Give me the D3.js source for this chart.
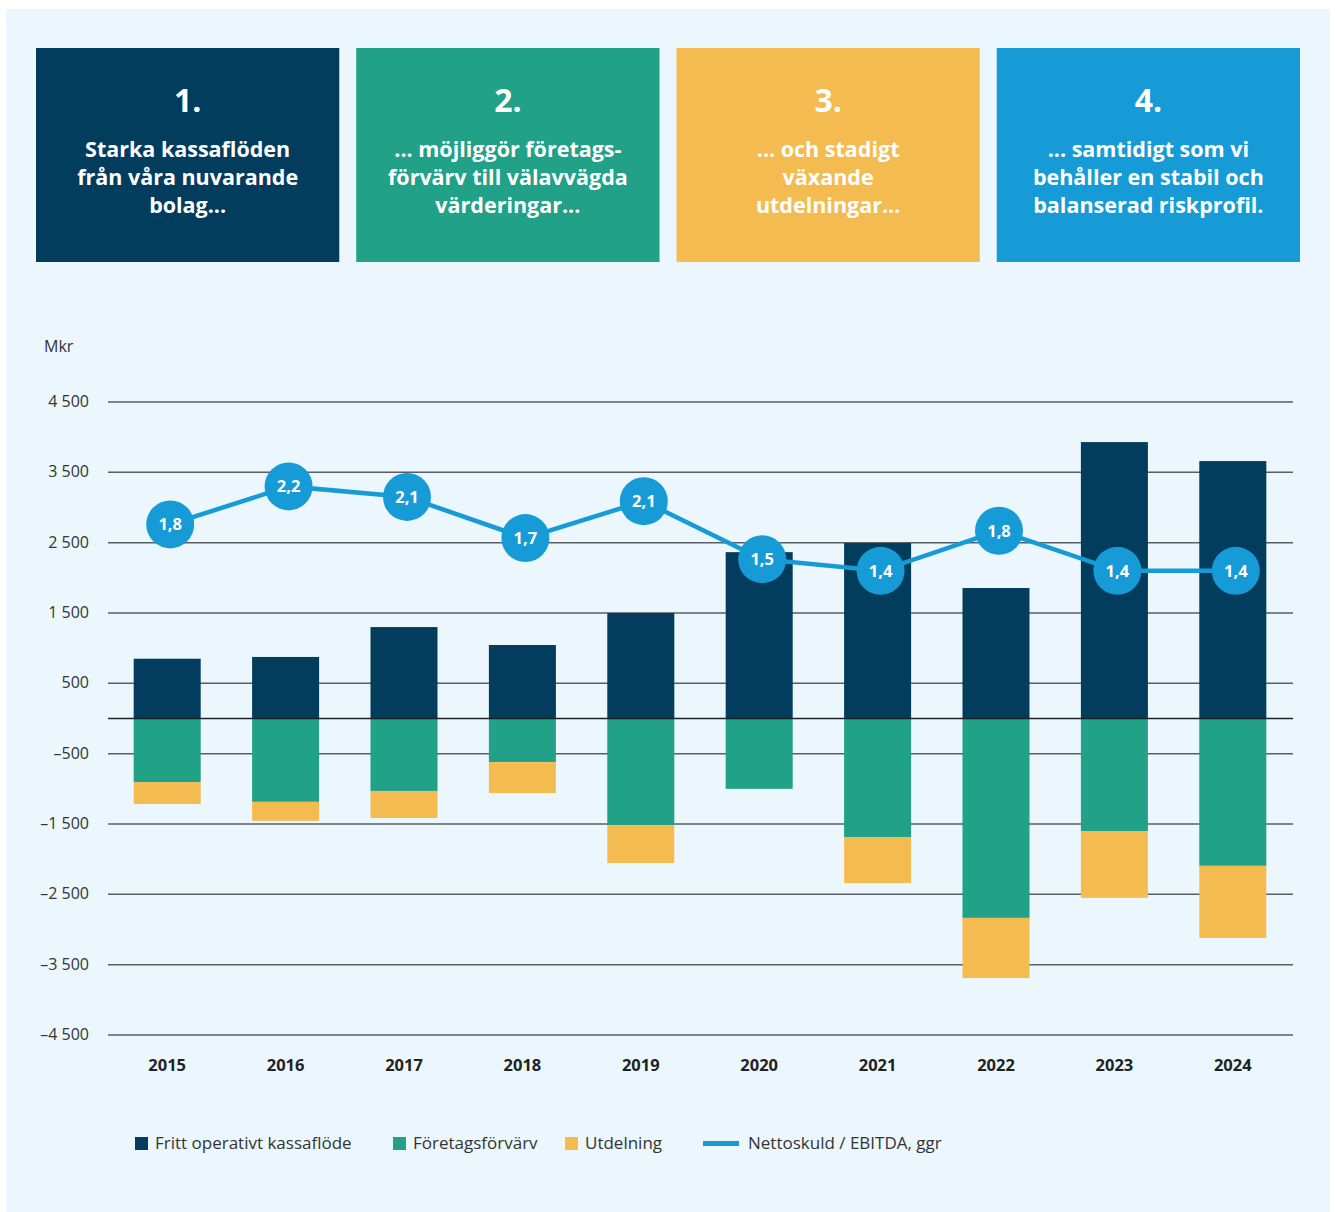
<!DOCTYPE html>
<html>
<head>
<meta charset="utf-8">
<script src="https://cdn.jsdelivr.net/npm/d3@7"></script>
<style>
  body { margin: 0; background: #fff; }
  svg { display: block; font-family: "Open Sans", "Noto Sans", sans-serif; }
</style>
</head>
<body>
<svg width="1335" height="1212"></svg>
<script>
// data
var years = ['2015', '2016', '2017', '2018', '2019', '2020', '2021', '2022', '2023', '2024'];
var kassaflode = [850, 875, 1300, 1045, 1500, 2365, 2495, 1855, 3930, 3660];
var forvarv = [-905, -1185, -1030, -620, -1515, -1000, -1685, -2835, -1600, -2095];
var utdelning = [-310, -270, -385, -440, -540, 0, -655, -855, -950, -1025];
var nettoskuld = [1.84, 2.2, 2.1, 1.71, 2.06, 1.51, 1.4, 1.78, 1.4, 1.4];
var yTicks = [4500, 3500, 2500, 1500, 500, -500, -1500, -2500, -3500, -4500];

var boxTitles = ['1.', '2.', '3.', '4.'];
var boxLines = [
  ['Starka kassaflöden', 'från våra nuvarande', 'bolag...'],
  ['... möjliggör företags-', 'förvärv till välavvägda', 'värderingar...'],
  ['... och stadigt', 'växande', 'utdelningar...'],
  ['... samtidigt som vi', 'behåller en stabil och', 'balanserad riskprofil.']
];

var navy = '#033d5e', teal = '#21a187', yellow = '#f4bb51', blue = '#179bd7';
var boxColors = [navy, teal, yellow, blue];

var svg = d3.select('svg');

// panel background
svg.append('rect')
  .attr('x', 6).attr('y', 9)
  .attr('width', 1324).attr('height', 1203)
  .style('fill', '#ebf7fd');

// top boxes
var bx = d3.scaleBand().domain(boxTitles).range([36, 1300]).paddingInner(0.053);

var boxes = svg.selectAll('.box').data(boxTitles).enter()
  .append('g')
  .attr('transform', function(d) { return 'translate(' + bx(d) + ',48)'; });

boxes.append('rect')
  .attr('width', bx.bandwidth())
  .attr('height', 214)
  .style('fill', function(d, i) { return boxColors[i]; });

boxes.append('text')
  .text(function(d) { return d; })
  .attr('x', bx.bandwidth() / 2)
  .attr('y', 64)
  .attr('text-anchor', 'middle')
  .style('font-size', '32px')
  .style('font-weight', 700)
  .style('fill', '#fff');

boxes.each(function(d, i) {
  var g = d3.select(this);
  boxLines[i].forEach(function(line, j) {
    g.append('text')
      .text(line)
      .attr('x', bx.bandwidth() / 2)
      .attr('y', 109 + j * 28)
      .attr('text-anchor', 'middle')
      .style('font-size', '21.5px')
      .style('font-weight', 700)
      .style('fill', '#fff');
  });
});

// chart scales
var x = d3.scaleBand().domain(years).range([108, 1292]).paddingInner(0.434).paddingOuter(0.217);
var y = d3.scaleLinear().domain([-4500, 4500]).range([1035, 402]);
var y2 = d3.scaleLinear().domain([-3, 3]).range([1035, 402]);

// gridlines
svg.selectAll('.grid').data(yTicks).enter()
  .append('line')
  .attr('x1', 108).attr('x2', 1293)
  .attr('y1', function(d) { return y(d); })
  .attr('y2', function(d) { return y(d); })
  .style('stroke', '#5a5f63')
  .style('stroke-width', 1.5);

svg.selectAll('.tick').data(yTicks).enter()
  .append('text')
  .text(function(d) { return (d < 0 ? '\u2013' : '') + d3.format(',')(Math.abs(d)).replace(',', ' '); })
  .attr('x', 89)
  .attr('y', function(d) { return y(d) + 5; })
  .attr('text-anchor', 'end')
  .style('font-size', '16px')
  .style('fill', '#333');

svg.append('text')
  .text('Mkr')
  .attr('x', 44).attr('y', 352)
  .style('font-size', '16px')
  .style('fill', '#333');

// bars
svg.selectAll('.fcf').data(kassaflode).enter()
  .append('rect')
  .attr('x', function(d, i) { return x(years[i]); })
  .attr('y', function(d) { return y(d); })
  .attr('width', x.bandwidth())
  .attr('height', function(d) { return y(0) - y(d); })
  .style('fill', navy);

svg.selectAll('.acq').data(forvarv).enter()
  .append('rect')
  .attr('x', function(d, i) { return x(years[i]); })
  .attr('y', y(0))
  .attr('width', x.bandwidth())
  .attr('height', function(d) { return y(d) - y(0); })
  .style('fill', teal);

svg.selectAll('.div').data(utdelning).enter()
  .append('rect')
  .attr('x', function(d, i) { return x(years[i]); })
  .attr('y', function(d, i) { return y(forvarv[i]); })
  .attr('width', x.bandwidth())
  .attr('height', function(d, i) { return y(forvarv[i] + d) - y(forvarv[i]); })
  .style('fill', yellow);

// zero line
svg.append('line')
  .attr('x1', 108).attr('x2', 1293)
  .attr('y1', y(0)).attr('y2', y(0))
  .style('stroke', '#1d2226')
  .style('stroke-width', 1.5);

// year labels
svg.selectAll('.year').data(years).enter()
  .append('text')
  .text(function(d) { return d; })
  .attr('x', function(d) { return x(d) + x.bandwidth() / 2; })
  .attr('y', 1071)
  .attr('text-anchor', 'middle')
  .style('font-size', '16.5px')
  .style('font-weight', 700)
  .style('fill', '#222');

// line
var cx = function(d, i) { return x(years[i]) + x.bandwidth() / 2 + 3; };
var line = d3.line()
  .x(function(d, i) { return cx(d, i); })
  .y(function(d) { return y2(d); });

svg.append('path')
  .datum(nettoskuld)
  .attr('d', line)
  .style('fill', 'none')
  .style('stroke', blue)
  .style('stroke-width', 4.5);

svg.selectAll('.dot').data(nettoskuld).enter()
  .append('circle')
  .attr('cx', cx)
  .attr('cy', function(d) { return y2(d); })
  .attr('r', 24)
  .style('fill', blue);

svg.selectAll('.dotlabel').data(nettoskuld).enter()
  .append('text')
  .text(function(d) { return d3.format('.1f')(d).replace('.', ','); })
  .attr('x', cx)
  .attr('y', function(d) { return y2(d) + 6; })
  .attr('text-anchor', 'middle')
  .style('font-size', '16.5px')
  .style('font-weight', 700)
  .style('fill', '#fff');

// legend
var legendItems = [
  { label: 'Fritt operativt kassaflöde', color: navy, x: 135, type: 'rect' },
  { label: 'Företagsförvärv', color: teal, x: 393, type: 'rect' },
  { label: 'Utdelning', color: yellow, x: 565, type: 'rect' },
  { label: 'Nettoskuld / EBITDA, ggr', color: blue, x: 703, type: 'line' }
];

var legend = svg.selectAll('.legend').data(legendItems).enter()
  .append('g')
  .attr('transform', function(d) { return 'translate(' + d.x + ',1143)'; });

legend.filter(function(d) { return d.type === 'rect'; })
  .append('rect')
  .attr('y', -6).attr('width', 13).attr('height', 13)
  .style('fill', function(d) { return d.color; });

legend.filter(function(d) { return d.type === 'line'; })
  .append('rect')
  .attr('y', -2).attr('width', 36).attr('height', 5)
  .style('fill', function(d) { return d.color; });

legend.append('text')
  .text(function(d) { return d.label; })
  .attr('x', function(d) { return d.type === 'line' ? 45 : 20; })
  .attr('y', 6)
  .style('font-size', '17px')
  .style('fill', '#333');
</script>
</body>
</html>
